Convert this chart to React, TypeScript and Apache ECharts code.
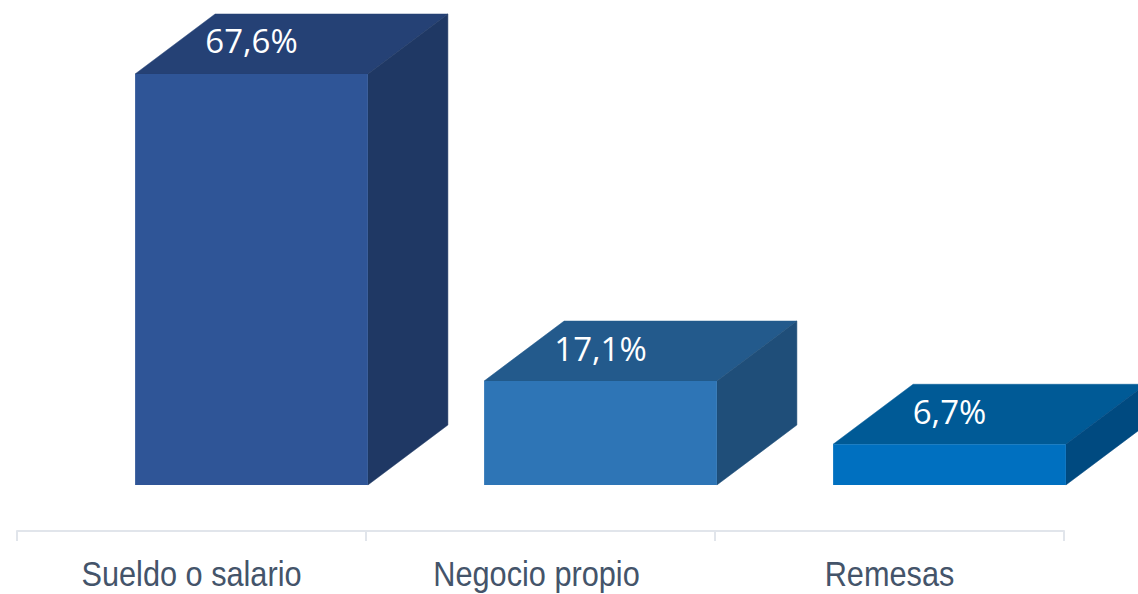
import React, { useEffect, useRef } from "react";
import * as echarts from "echarts";

const categories = ["Sueldo o salario", "Negocio propio", "Remesas"];
const values = [67.6, 17.1, 6.7];
const valueLabels = ["67,6%", "17,1%", "6,7%"];
const frontColors = ["#2F5597", "#2E75B6", "#0070C0"];
const topColors = ["#254175", "#235A8C", "#005A96"];
const sideColors = ["#1F3864", "#1F4E79", "#004A80"];
const categoryNudge = [0, -4, 0];

const Y_MIN = -7.566;
const Y_MAX = 79.77;
const DEPTH_X = 80;
const DEPTH_Y = 60;
const BAR_SHIFT = 60;
const BAR_WIDTH_RATIO = 0.667;

const renderItem = (params: any, api: any) => {
  const i = api.value(0);
  const v = api.value(1);
  const [cx, yTop] = api.coord([i, v]);
  const [, yBase] = api.coord([i, 0]);
  const [, yAxis] = api.coord([i, Y_MIN]);
  const band = api.size([1, 0])[0];
  const w = band * BAR_WIDTH_RATIO;
  const x0 = cx + BAR_SHIFT - w / 2;
  const x1 = x0 + w;
  return {
    type: "group",
    children: [
      {
        type: "polygon",
        shape: { points: [[x0, yTop], [x1, yTop], [x1 + DEPTH_X, yTop - DEPTH_Y], [x0 + DEPTH_X, yTop - DEPTH_Y]] },
        style: { fill: topColors[i], stroke: topColors[i], lineWidth: 0.5 },
      },
      {
        type: "polygon",
        shape: { points: [[x1, yTop], [x1 + DEPTH_X, yTop - DEPTH_Y], [x1 + DEPTH_X, yBase - DEPTH_Y], [x1, yBase]] },
        style: { fill: sideColors[i], stroke: sideColors[i], lineWidth: 0.5 },
      },
      {
        type: "rect",
        shape: { x: x0, y: yTop, width: w, height: yBase - yTop },
        style: { fill: frontColors[i] },
      },
      {
        type: "text",
        x: (x0 + x1) / 2,
        y: yTop - 33,
        style: {
          text: valueLabels[i],
          fill: "#FFFFFF",
          font: '33px "Open Sans", sans-serif',
          align: "center",
          verticalAlign: "middle",
        },
      },
      {
        type: "text",
        x: cx + categoryNudge[i],
        y: yAxis + 43,
        scaleX: 0.853,
        style: {
          text: categories[i],
          fill: "#44546A",
          font: '36px "Liberation Sans", sans-serif',
          align: "center",
          verticalAlign: "middle",
        },
      },
    ],
  };
};

export default function App() {
  const ref = useRef<HTMLDivElement>(null);
  useEffect(() => {
    const chart = echarts.init(ref.current!, undefined, { renderer: "svg" });
    chart.setOption({
      animation: false,
      backgroundColor: "#FFFFFF",
      grid: { left: 17, right: 74, top: 0, bottom: 63 },
      xAxis: {
        type: "category",
        data: categories,
        boundaryGap: true,
        axisLine: { show: true, onZero: false, lineStyle: { color: "#E1E5EB", width: 2 } },
        axisTick: { show: true, length: 10, lineStyle: { color: "#E1E5EB", width: 2 } },
        axisLabel: { show: false },
      },
      yAxis: {
        type: "value",
        min: Y_MIN,
        max: Y_MAX,
        show: false,
        splitLine: { show: false },
      },
      series: [
        {
          type: "custom",
          renderItem,
          clip: false,
          encode: { x: 0, y: 1 },
          data: values.map((v, i) => [i, v]),
        },
      ],
    });
    return () => chart.dispose();
  }, []);
  return <div ref={ref} style={{ position: "fixed", left: 0, top: 0, width: 1138, height: 594 }} />;
}
